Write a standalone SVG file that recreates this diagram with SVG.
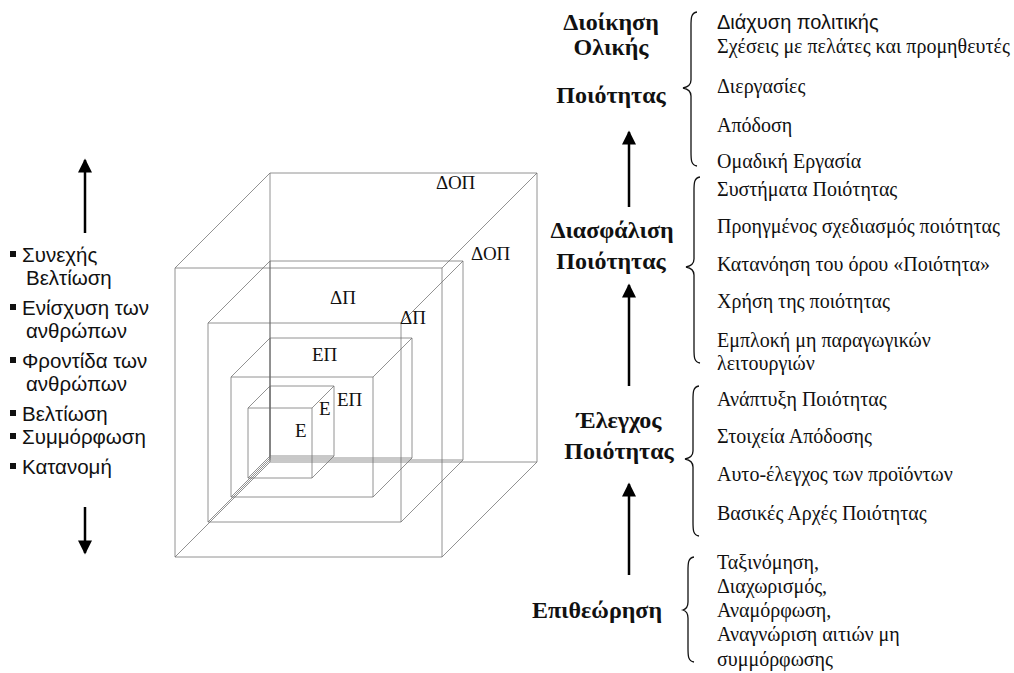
<svg xmlns="http://www.w3.org/2000/svg" width="1014" height="673" viewBox="0 0 1014 673">
  <style>
    .cube { fill: none; stroke: #6e6e6e; stroke-opacity: 0.75; stroke-width: 1; }
    .cl { font-family: "Liberation Serif", "Times New Roman", serif; font-size: 19px; fill: #111; }
    .lst { font-family: "Liberation Sans", Arial, sans-serif; font-size: 20.5px; fill: #111; }
    .ttl { font-family: "Liberation Serif", "Times New Roman", serif; font-size: 24px; font-weight: bold; fill: #111; text-anchor: middle; }
    .itm { font-family: "Liberation Serif", "Times New Roman", serif; font-size: 20px; fill: #111; }
    .itms { font-family: "Liberation Sans", Arial, sans-serif; font-size: 20px; fill: #111; }
    .brace { fill: none; stroke: #111; stroke-width: 1.3; }
    .shaft { stroke: #000; stroke-width: 2.5; }
  </style>
  <defs>
    <marker id="head" viewBox="0 0 10 10" refX="9" refY="5" markerWidth="6" markerHeight="5.6" orient="auto" markerUnits="strokeWidth">
      <path d="M0,0 L10,5 L0,10 Z" fill="#000"/>
    </marker>
  </defs>
  <rect width="1014" height="673" fill="#fff"/>

  <!-- nested wireframe cubes: front face, back face, four depth edges -->
  <g id="cube-dop" class="cube">
    <path d="M175,268 H442 V557 H175 Z M270,173 H537 V462 H270 Z M175,268 L270,173 M442,268 L537,173 M442,557 L537,462 M175,557 L270,462"/>
  </g>
  <g id="cube-dp" class="cube">
    <path d="M208,323 H401 V522 H208 Z M270,261 H463 V460 H270 Z M208,323 L270,261 M401,323 L463,261 M401,522 L463,460 M208,522 L270,460"/>
  </g>
  <g id="cube-ep" class="cube">
    <path d="M231,377 H373 V497 H231 Z M270,338 H412 V458 H270 Z M231,377 L270,338 M373,377 L412,338 M373,497 L412,458 M231,497 L270,458"/>
  </g>
  <g id="cube-e" class="cube">
    <path d="M248,408 H312 V478 H248 Z M270,386 H334 V456 H270 Z M248,408 L270,386 M312,408 L334,386 M312,478 L334,456 M248,478 L270,456"/>
  </g>

  <g id="cube-labels" class="cl">
    <text x="436" y="189">ΔΟΠ</text>
    <text x="471" y="260">ΔΟΠ</text>
    <text x="330" y="304">ΔΠ</text>
    <text x="400" y="324">ΔΠ</text>
    <text x="312" y="361">ΕΠ</text>
    <text x="337" y="406">ΕΠ</text>
    <text x="319" y="415">Ε</text>
    <text x="295" y="437">Ε</text>
  </g>

  <!-- left list of practices -->
  <g id="practices" class="lst">
    <rect x="10" y="251" width="6" height="6"/>
    <text x="22" y="262">Συνεχής</text>
    <text x="26" y="285">Βελτίωση</text>
    <rect x="10" y="304" width="6" height="6"/>
    <text x="22" y="315">Ενίσχυση των</text>
    <text x="26" y="338">ανθρώπων</text>
    <rect x="10" y="357" width="6" height="6"/>
    <text x="22" y="368">Φροντίδα των</text>
    <text x="26" y="391">ανθρώπων</text>
    <rect x="10" y="410" width="6" height="6"/>
    <text x="22" y="421">Βελτίωση</text>
    <rect x="10" y="433" width="6" height="6"/>
    <text x="22" y="444">Συμμόρφωση</text>
    <rect x="10" y="463" width="6" height="6"/>
    <text x="22" y="474">Κατανομή</text>
  </g>

  <!-- quality stages -->
  <g id="stage-tqm">
    <text class="ttl" x="611" y="30">Διοίκηση</text>
    <text class="ttl" x="611" y="55">Ολικής</text>
    <text class="ttl" x="611" y="103">Ποιότητας</text>
    <path class="brace" d="M697,12 C691,13 691,18 691,26 L691,80 C691,85 688,87 683,88 C688,89 691,91 691,96 L691,152 C691,160 691,165 697,166"/>
    <text class="itms" x="717" y="29">Διάχυση πολιτικής</text>
    <text class="itm" x="717" y="53">Σχέσεις με πελάτες και προμηθευτές</text>
    <text class="itm" x="717" y="93">Διεργασίες</text>
    <text class="itm" x="717" y="132">Απόδοση</text>
    <text class="itm" x="717" y="168">Ομαδική Εργασία</text>
  </g>

  <g id="stage-qa">
    <text class="ttl" x="612" y="238">Διασφάλιση</text>
    <text class="ttl" x="611" y="269">Ποιότητας</text>
    <path class="brace" d="M700,177 C694,178 694,183 694,191 L694,259 C694,264 691,266 686,267 C691,268 694,270 694,275 L694,349 C694,357 694,362 700,363"/>
    <text class="itm" x="717" y="196">Συστήματα Ποιότητας</text>
    <text class="itm" x="717" y="233">Προηγμένος σχεδιασμός ποιότητας</text>
    <text class="itm" x="717" y="271">Κατανόηση του όρου «Ποιότητα»</text>
    <text class="itm" x="717" y="308">Χρήση της ποιότητας</text>
    <text class="itm" x="717" y="347">Εμπλοκή μη παραγωγικών</text>
    <text class="itm" x="717" y="370">λειτουργιών</text>
  </g>

  <g id="stage-qc">
    <text class="ttl" x="619" y="428">Έλεγχος</text>
    <text class="ttl" x="619" y="459">Ποιότητας</text>
    <path class="brace" d="M699,386 C693,387 693,392 693,400 L693,451 C693,456 690,458 685,459 C690,460 693,462 693,467 L693,522 C693,530 693,535 699,536"/>
    <text class="itm" x="717" y="406">Ανάπτυξη Ποιότητας</text>
    <text class="itm" x="717" y="443">Στοιχεία Απόδοσης</text>
    <text class="itm" x="717" y="481">Αυτο-έλεγχος των προϊόντων</text>
    <text class="itm" x="717" y="520">Βασικές Αρχές Ποιότητας</text>
  </g>

  <g id="stage-inspection">
    <text class="ttl" x="597" y="618">Επιθεώρηση</text>
    <path class="brace" d="M694,557 C688,558 688,563 688,571 L688,602 C688,607 686,609 683,610 C686,611 688,613 688,618 L688,648 C688,656 688,661 694,662"/>
    <text class="itm" x="717" y="569">Ταξινόμηση,</text>
    <text class="itm" x="717" y="593">Διαχωρισμός,</text>
    <text class="itm" x="717" y="617">Αναμόρφωση,</text>
    <text class="itm" x="717" y="641">Αναγνώριση αιτιών μη</text>
    <text class="itm" x="717" y="666">συμμόρφωσης</text>
  </g>

  <!-- connectors -->
  <g id="connectors">
    <line class="shaft" x1="85" y1="233" x2="85" y2="160" marker-end="url(#head)"/>
    <line class="shaft" x1="85" y1="507" x2="85" y2="553" marker-end="url(#head)"/>
    <line class="shaft" x1="629" y1="207" x2="629" y2="132" marker-end="url(#head)"/>
    <line class="shaft" x1="629" y1="386" x2="629" y2="285" marker-end="url(#head)"/>
    <line class="shaft" x1="629" y1="575" x2="629" y2="484" marker-end="url(#head)"/>
  </g>
</svg>
